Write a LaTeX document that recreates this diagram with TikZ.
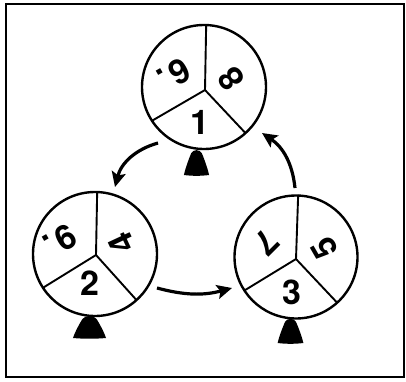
\documentclass[tikz,border=0pt]{standalone}
\usepackage{fontspec}
\setmainfont{TeX Gyre Heros}
\usetikzlibrary{arrows.meta}

\begin{document}
\begin{tikzpicture}[x=1pt,y=1pt,
  wheel/.style={circle, draw, fill=white, line width=2.4pt, minimum size=124pt,
    inner sep=0pt, outer sep=0pt},
  divider/.style={line width=1.9pt, line cap=round},
  digit/.style={font=\fontsize{34}{36}\selectfont\bfseries, inner sep=0pt},
  flow/.style={line width=3.2pt, -{Stealth[length=15pt,width=14pt,inset=3pt]}},
  bellbase/.pic={\fill (-14,0) .. controls (-13,4) and (-10,12) .. (-6,20)
      .. controls (-4,24) and (4,24) .. (6,20)
      .. controls (10,12) and (13,4) .. (14,0)
      .. controls (5,-1) and (-5,-1) .. cycle;}
]
\useasboundingbox (0,0) rectangle (406,381);

% outer frame
\draw[line width=2pt] (6,4) rectangle (404,377);

% stands under the wheels
\pic[xscale=0.9, yscale=1.08] at (196.5,206) {bellbase};
\pic[xscale=1.18, yscale=0.95] at (89.5,43) {bellbase};
\pic[xscale=0.92, yscale=1.05] at (290.5,38) {bellbase};

% wheels
\node[wheel] (w1) at (204,294) {};
\node[wheel] (w2) at (95,127) {};
\node[wheel, minimum size=123pt] (w3) at (296,124) {};

\coordinate (h1) at (205,291);
\coordinate (h2) at (96,126);
\coordinate (h3) at (296,122);

\foreach \w/\h in {w1/h1, w2/h2, w3/h3}{
  \draw[divider] (\h) -- (\w.88);
  \draw[divider] (\h) -- (\w.213);
  \draw[divider] (\h) -- (\w.-48);
}

% sector numbers
\node[digit, rotate=-150] (d16) at (174,306) {6\kern2pt.};
\node[digit, rotate=125]  (d18) at (231,302) {8};
\node[digit]              (d11) at (200,259) {1};

\node[digit, rotate=-150] (d29) at (60,140) {9\kern2pt.};
\node[digit, rotate=115]  (d24) at (122,138) {4};
\node[digit]              (d22) at (90,98) {2};

\node[digit, rotate=-135] (d37) at (266,138) {7};
\node[digit, rotate=120]  (d35) at (324,133) {5};
\node[digit]              (d33) at (292,89) {3};

% turning arrows
\coordinate (a1s) at (158,238);
\coordinate (a1e) at (115,194);
\coordinate (a2s) at (157,93);
\coordinate (a2e) at (232,93);
\coordinate (a3s) at (295,193);
\coordinate (a3e) at (262,248);

\draw[flow] (a1s) to[bend right=30] (a1e);
\draw[flow] (a2s) to[bend right=15] (a2e);
\draw[flow] (a3s) to[bend right=25] (a3e);
\end{tikzpicture}
\end{document}
